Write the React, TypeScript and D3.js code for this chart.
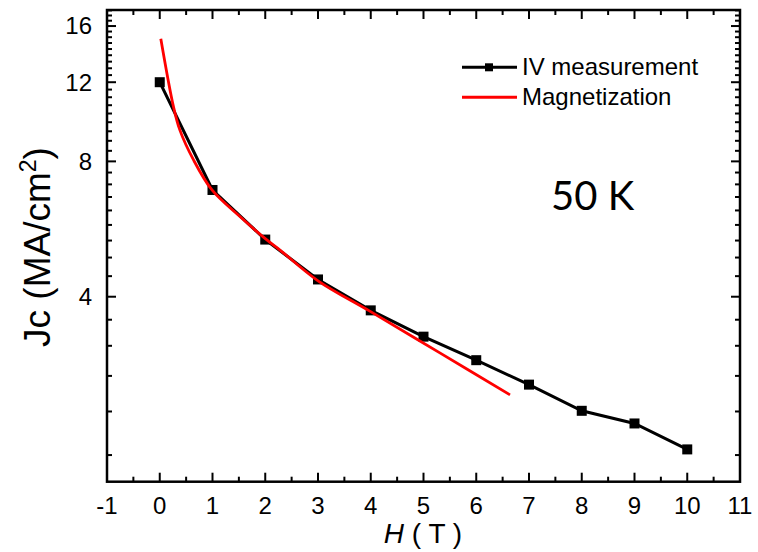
import React from "react";
import * as d3 from "d3";

const W = 758;
const H = 552;

const ivField = [0, 1, 2, 3, 4, 5, 6, 7, 8, 9, 10];
const ivJc = [12.0, 6.91, 5.36, 4.37, 3.73, 3.26, 2.89, 2.55, 2.23, 2.09, 1.83];

const magField = [0.02, 0.26, 0.38, 0.64, 0.99, 1.52, 2.03, 2.28, 3.0, 3.99, 5.31, 6.64];
const magJc = [15.0, 10.59, 9.4, 8.06, 6.91, 6.03, 5.35, 5.08, 4.34, 3.71, 3.0, 2.42];

const xTicks = [-1, 0, 1, 2, 3, 4, 5, 6, 7, 8, 9, 10, 11];
const yTicks = [4, 8, 12, 16];

const legendLabels = ["IV measurement", "Magnetization"];

export default function App() {
  const left = 107, right = 740, top = 10, bottom = 481.7;
  const x = d3.scaleLinear().domain([-1, 11]).range([left, right]);
  const y = d3.scaleLog().domain([1.551, 17.37]).range([bottom, top]);

  const xMinor: number[] = d3.range(-0.5, 11, 1);
  const yMinor: number[] = [];
  for (let base = 0; base <= 16; base += 4) {
    for (let k = 1; k <= 8; k++) {
      const v = base + (k * 4) / 9;
      if (v >= 1.551 && v <= 17.37) yMinor.push(v);
    }
  }

  const line = d3
    .line<[number, number]>()
    .x((d) => x(d[0]))
    .y((d) => y(d[1]));
  const curve = d3
    .line<[number, number]>()
    .x((d) => x(d[0]))
    .y((d) => y(d[1]))
    .curve(d3.curveCatmullRom.alpha(0.5));

  const ivPts: [number, number][] = ivField.map((f, i) => [f, ivJc[i]]);
  const magPts: [number, number][] = magField.map((f, i) => [f, magJc[i]]);

  const font = "'Liberation Sans', Arial, sans-serif";
  const majL = 9, minL = 5;
  const ms = 10;

  return (
    <svg
      width={W}
      height={H}
      style={{ position: "absolute", left: 0, top: 0, background: "#fff" }}
    >
      <rect x={0} y={0} width={W} height={H} fill="#fff" />
      {/* ticks */}
      <g stroke="#000" strokeWidth={2}>
        {xTicks.map((t) => (
          <g key={"xt" + t}>
            <line x1={x(t)} x2={x(t)} y1={bottom} y2={bottom - majL} />
            <line x1={x(t)} x2={x(t)} y1={top} y2={top + majL} />
          </g>
        ))}
        {xMinor.map((t) => (
          <g key={"xm" + t}>
            <line x1={x(t)} x2={x(t)} y1={bottom} y2={bottom - minL} />
            <line x1={x(t)} x2={x(t)} y1={top} y2={top + minL} />
          </g>
        ))}
        {yTicks.map((t) => (
          <g key={"yt" + t}>
            <line x1={left} x2={left + majL} y1={y(t)} y2={y(t)} />
            <line x1={right} x2={right - majL} y1={y(t)} y2={y(t)} />
          </g>
        ))}
        {yMinor.map((t) => (
          <g key={"ym" + t}>
            <line x1={left} x2={left + minL} y1={y(t)} y2={y(t)} />
            <line x1={right} x2={right - minL} y1={y(t)} y2={y(t)} />
          </g>
        ))}
      </g>
      <rect
        x={left}
        y={top}
        width={right - left}
        height={bottom - top}
        fill="none"
        stroke="#000"
        strokeWidth={2.5}
      />
      {/* tick labels */}
      <g fontFamily={font} fontSize={24} fill="#000">
        {xTicks.map((t) => (
          <text key={"xl" + t} x={x(t)} y={514} textAnchor="middle">
            {t}
          </text>
        ))}
        {yTicks.map((t) => (
          <text key={"yl" + t} x={92} y={y(t)} dy="0.35em" textAnchor="end">
            {t}
          </text>
        ))}
      </g>
      {/* axis titles */}
      <text x={423} y={543} textAnchor="middle" fontFamily={font} fontSize={28} fill="#000">
        <tspan fontStyle="italic">H</tspan>
        <tspan> ( T )</tspan>
      </text>
      <text
        transform={`translate(50,247) rotate(-90)`}
        textAnchor="middle"
        fontFamily={font}
        fontSize={37}
        fill="#000"
      >
        <tspan>Jc (MA/cm</tspan>
        <tspan fontSize={23} dy={-14}>2</tspan>
        <tspan dy={14}>)</tspan>
      </text>
      {/* data */}
      <path d={line(ivPts) || ""} fill="none" stroke="#000" strokeWidth={3} />
      {ivPts.map((p, i) => (
        <rect
          key={"m" + i}
          x={x(p[0]) - ms / 2}
          y={y(p[1]) - ms / 2}
          width={ms}
          height={ms}
          fill="#000"
        />
      ))}
      <path d={curve(magPts) || ""} fill="none" stroke="#f00" strokeWidth={2.8} />
      {/* legend */}
      <g fontFamily={font} fontSize={24} fill="#000">
        <line x1={462} x2={517} y1={67.3} y2={67.3} stroke="#000" strokeWidth={3} />
        <rect x={489 - 4} y={67.3 - 4} width={8} height={8} fill="#000" />
        <text x={522} y={75}>{legendLabels[0]}</text>
        <line x1={462} x2={517} y1={97.3} y2={97.3} stroke="#f00" strokeWidth={3} />
        <text x={522} y={105}>{legendLabels[1]}</text>
      </g>
      <text x={551} y={210} fontFamily="Lato, 'Open Sans', sans-serif" fontSize={40} fill="#000">
        50 K
      </text>
    </svg>
  );
}
